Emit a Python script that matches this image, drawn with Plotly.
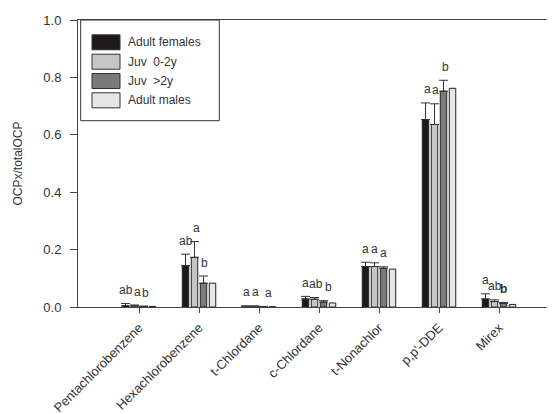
import plotly.graph_objects as go

categories = ["Pentachlorobenzene", "Hexachlorobenzene", "t-Chlordane", "c-Chlordane",
              "t-Nonachlor", "p,p'-DDE", "Mirex"]
series_names = ["Adult females", "Juv  0-2y", "Juv  >2y", "Adult males"]

adult_females = [0.004, 0.144, 0.002, 0.028, 0.141, 0.653, 0.028]
adult_females_err = [0.008, 0.040, 0.002, 0.009, 0.015, 0.058, 0.018]
juv_0_2 = [0.004, 0.173, 0.002, 0.027, 0.141, 0.636, 0.019]
juv_0_2_err = [0.003, 0.055, 0.002, 0.006, 0.013, 0.072, 0.006]
juv_gt2 = [0.002, 0.083, 0.001, 0.017, 0.135, 0.752, 0.013]
juv_gt2_err = [0.001, 0.025, 0.001, 0.005, 0.005, 0.038, 0.003]
adult_males = [0.002, 0.083, 0.001, 0.014, 0.132, 0.762, 0.009]

y_ticks = [0.0, 0.2, 0.4, 0.6, 0.8, 1.0]

# significance letters per category: (text, bar slot it sits over)
letters = [
    [("ab", 0.1), ("a", 1.3), ("b", 2.25)],
    [("ab", 0.05), ("a", 1.17), ("b", 2.1)],
    [("a", 0.13), ("a", 1.13), ("a", 2.5)],
    [("a", 0.0), ("ab", 1.2), ("b", 2.5)],
    [("a", 0.02), ("a", 1.0), ("a", 2.0)],
    [("a", 0.2), ("a", 1.06), ("b", 2.2)],
    [("a", -0.05), ("ab", 1.05), ("<b>b</b>", 2.05)],
]

values = [adult_females, juv_0_2, juv_gt2, adult_males]
errors = [adult_females_err, juv_0_2_err, juv_gt2_err, None]
colors = ["#1e1a1b", "#c6c6c6", "#7a7a7a", "#e6e6e6"]

FONT = "Liberation Sans, Arial, sans-serif"
TXT = "#333333"

# page body has an 8px margin; size the figure so it fills the 555x414 window
OFF = 8
W, H = 555 - OFF, 414 - OFF
ML, MR, MT = 78 - OFF, 0, 20 - OFF
MB = H - MT - 287

fig = go.Figure()
xs = list(range(len(categories)))
for name, vals, err, col in zip(series_names, values, errors, colors):
    kw = {}
    if err is not None:
        kw["error_y"] = dict(type="data", symmetric=False, array=err,
                             arrayminus=[0] * len(err), color="#333333",
                             thickness=1, width=4.5)
    fig.add_trace(go.Bar(x=xs, y=vals, name=name, marker=dict(color=col, line=dict(color="#222222", width=1)),
                         showlegend=False, **kw))

slot = 0.15
for i, group in enumerate(letters):
    for txt, s in group:
        b = int(s) if s >= 0 else 0
        top = values[b][i] + (errors[b][i] if errors[b] is not None else 0)
        fig.add_annotation(x=i + (s - 1.5) * slot, y=top + 0.047, text=txt,
                           showarrow=False, xanchor="center", yanchor="middle",
                           font=dict(family=FONT, size=12, color=TXT))

# manual legend (screen pixel -> paper coordinates)
pw, ph = W - ML - MR, H - MT - MB
def px(x):
    return (x - OFF - ML) / pw
def py(y):
    return (H - MB - (y - OFF)) / ph

fig.add_shape(type="rect", xref="paper", yref="paper", x0=px(80.7), x1=px(219.3),
              y0=py(120.7), y1=py(20), line=dict(color="#333333", width=1), fillcolor="white", layer="above")
row_y = [42.3, 61.7, 81.0, 100.3]
for name, col, ry in zip(series_names, colors, row_y):
    fig.add_shape(type="rect", xref="paper", yref="paper", x0=px(92), x1=px(120),
                  y0=py(ry + 7.5), y1=py(ry - 7.5), line=dict(color="#333333", width=1),
                  fillcolor=col, layer="above")
    fig.add_annotation(xref="paper", yref="paper", x=px(126), y=py(ry), text=name,
                       showarrow=False, xanchor="left", yanchor="middle",
                       font=dict(family=FONT, size=12, color=TXT))

fig.update_layout(
    width=W, height=H, margin=dict(l=ML, r=MR, t=MT, b=MB),
    paper_bgcolor="white", plot_bgcolor="white",
    barmode="group", bargap=0.4, bargroupgap=0.28,
    font=dict(family=FONT, size=13, color=TXT),
    xaxis=dict(range=[-1.017, 6.933], tickvals=xs, ticktext=categories, tickangle=-45,
               showline=True, linecolor="#444444", linewidth=1, mirror=True, automargin=False,
               ticks="outside", ticklen=5, tickcolor="#444444", showgrid=False, zeroline=False,
               ticklabelstandoff=2, tickfont=dict(size=13, color=TXT)),
    yaxis=dict(range=[0, 1.0], tickvals=y_ticks, tickformat=".1f", automargin=False,
               showline=True, linecolor="#444444", linewidth=1,
               ticks="outside", ticklen=7, tickcolor="#444444", showgrid=False, zeroline=False,
               ticklabelstandoff=6, tickfont=dict(size=13, color=TXT),
               title=dict(text="OCPx/totalOCP", standoff=18, font=dict(size=12, color=TXT))),
)

fig.write_html("out.html")
